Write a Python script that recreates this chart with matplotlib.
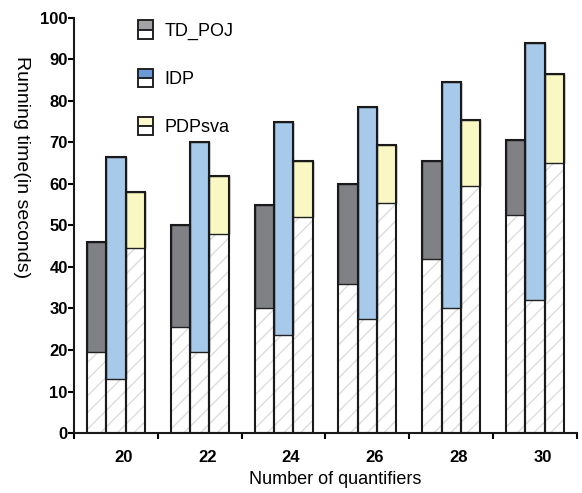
import matplotlib
matplotlib.use('Agg')
import matplotlib.pyplot as plt
from matplotlib.patches import Rectangle
from matplotlib.legend_handler import HandlerBase
import numpy as np

plt.rcParams['font.family'] = ['Liberation Sans', 'DejaVu Sans']
plt.rcParams['hatch.linewidth'] = 1.0

# running time (s) per number of quantifiers: total bar height and hatched lower part
quantifiers = ['20', '22', '24', '26', '28', '30']
td_total = [46, 50, 55, 60, 65.5, 70.5]
td_lower = [19.5, 25.5, 30, 36, 42, 52.5]
idp_total = [66.5, 70, 75, 78.5, 84.5, 94]
idp_lower = [13, 19.5, 23.5, 27.5, 30, 32]
pdp_total = [58, 62, 65.5, 69.5, 75.5, 86.5]
pdp_lower = [44.5, 48, 52, 55.5, 59.5, 65]

series = [
    ('TD_POJ', td_total, td_lower, '#808185', '#a2a3a7'),
    ('IDP', idp_total, idp_lower, '#a7c9ea', '#6a9ad6'),
    ('PDPsva', pdp_total, pdp_lower, '#faf8c2', '#fbf9cb'),
]


class SplitBoxHandler(HandlerBase):
    """Legend key: colored top half, white bottom half, black frame."""
    def __init__(self, color):
        super().__init__()
        self.color = color

    def create_artists(self, legend, orig_handle, xdescent, ydescent,
                       width, height, fontsize, trans):
        w = 10.5
        h = 13.5
        x0 = -xdescent + (width - w) / 2
        y0 = -ydescent + (height - h) / 2
        top = Rectangle((x0, y0 + h / 2), w, h / 2, facecolor=self.color,
                        edgecolor='#222222', lw=1.4, transform=trans)
        bot = Rectangle((x0, y0), w, h / 2, facecolor='white',
                        edgecolor='#222222', lw=1.4, transform=trans)
        return [top, bot]


fig = plt.figure(figsize=(5.82, 4.93), dpi=100)
ax = fig.add_axes([0.1271, 0.1217, 0.8643, 0.8418])

x = np.arange(len(quantifiers))
w = 0.231
handles = []
for i, (name, total, lower, col, legcol) in enumerate(series):
    pos = x + (i - 1) * w
    total = np.array(total)
    lower = np.array(lower)
    ax.bar(pos, lower, w, color='white', edgecolor='#dcdcdc', hatch='//',
           linewidth=0, zorder=2)
    ax.bar(pos, total - lower, w, bottom=lower, color=col,
           edgecolor='#222222', linewidth=1.0, zorder=3)
    ax.bar(pos, total, w, fill=False, edgecolor='#1a1a1a', linewidth=1.5,
           zorder=4)
    handles.append(Rectangle((0, 0), 1, 1, label=name))

handler_map = {h: SplitBoxHandler(s[4]) for h, s in zip(handles, series)}
ax.legend(handles=handles, handler_map=handler_map, loc='upper left',
          bbox_to_anchor=(0.110, 1.005), frameon=False, fontsize=13,
          labelspacing=1.72, handlelength=1.0, handletextpad=0.53,
          borderaxespad=0)

ax.set_xlim(-0.5, 5.5)
ax.set_ylim(0, 100)
yt = np.arange(0, 101, 10)
ax.set_yticks(yt, labels=[str(v) for v in yt], fontsize=12,
              fontweight='bold')
ax.set_xticks(np.arange(-0.5, 5.6, 1.0), labels=[''] * 7)
ax.set_xticks(x + 0.09, labels=quantifiers, minor=True, fontsize=12,
              fontweight='bold')
ax.tick_params(axis='x', which='minor', length=0, pad=12.5)
ax.tick_params(axis='x', which='major', length=4.5, width=1.5,
               direction='out')
ax.tick_params(axis='y', length=4, width=1.5, pad=0.5)

for side in ('top', 'right'):
    ax.spines[side].set_visible(False)
for side in ('left', 'bottom'):
    ax.spines[side].set_linewidth(1.5)
    ax.spines[side].set_color('#1a1a1a')

ax.set_xlabel('Number of quantifiers', fontsize=13, va='center')
ax.xaxis.set_label_coords(0.519, -0.113)
ax.set_ylabel('Running time(in seconds)', fontsize=14, rotation=270,
              va='center')
ax.yaxis.set_label_coords(-0.105, 0.64)

fig.savefig('out.png', dpi=100)
